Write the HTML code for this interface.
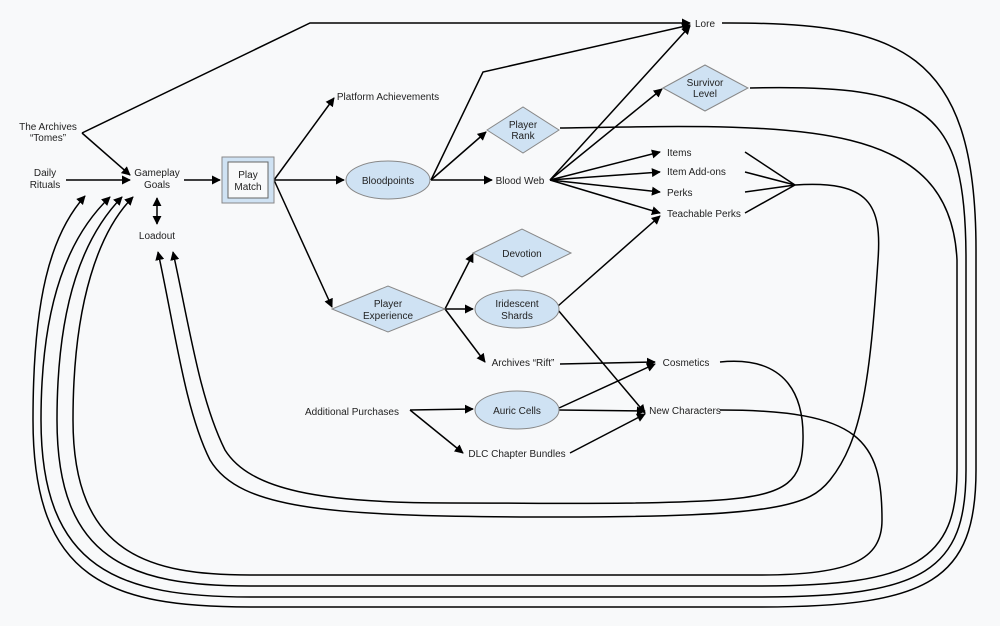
<!DOCTYPE html>
<html><head><meta charset="utf-8"><style>
html,body{margin:0;padding:0;background:#f8f9fa;}
svg{display:block;}
text{font-family:"Liberation Sans",Arial,sans-serif;font-size:10px;fill:#222;text-anchor:middle;}
</style></head><body>
<svg width="1000" height="626" viewBox="0 0 1000 626" xmlns="http://www.w3.org/2000/svg">
<defs>
<marker id="a" viewBox="0 0 10 10" refX="9" refY="5" markerWidth="9" markerHeight="9" markerUnits="userSpaceOnUse" orient="auto"><path d="M0,0 L10,5 L0,10 z" fill="#000"/></marker>
<marker id="s" viewBox="0 0 10 10" refX="1" refY="5" markerWidth="9" markerHeight="9" markerUnits="userSpaceOnUse" orient="auto"><path d="M10,0 L0,5 L10,10 z" fill="#000"/></marker>
</defs>
<rect width="1000" height="626" fill="#f8f9fa"/>
<g fill="none" stroke="#000" stroke-width="1.5">
<path d="M82,133 L310,23 L690,23" marker-end="url(#a)"/>
<path d="M82,133 L130,175" marker-end="url(#a)"/>
<path d="M66,180 L130,180" marker-end="url(#a)"/>
<path d="M184,180 L220,180" marker-end="url(#a)"/>
<path d="M157,198 L157,224" marker-end="url(#a)" marker-start="url(#s)"/>
<path d="M274,180 L334,98" marker-end="url(#a)"/>
<path d="M274,180 L344,180" marker-end="url(#a)"/>
<path d="M274,180 L332,307" marker-end="url(#a)"/>
<path d="M431,180 L483,72 L690,25" marker-end="url(#a)"/>
<path d="M431,180 L486,132" marker-end="url(#a)"/>
<path d="M431,180 L492,180" marker-end="url(#a)"/>
<path d="M550,180 L690,26" marker-end="url(#a)"/>
<path d="M550,180 L662,89" marker-end="url(#a)"/>
<path d="M550,180 L660,152" marker-end="url(#a)"/>
<path d="M550,180 L660,172" marker-end="url(#a)"/>
<path d="M550,180 L660,192" marker-end="url(#a)"/>
<path d="M550,180 L660,213" marker-end="url(#a)"/>
<path d="M745,152 L795,185 M745,172 L795,185 M745,192 L795,185 M745,213 L795,185"/>
<path d="M445,309 L473,254" marker-end="url(#a)"/>
<path d="M445,309 L473,309" marker-end="url(#a)"/>
<path d="M445,309 L485,362" marker-end="url(#a)"/>
<path d="M558,306 L660,216" marker-end="url(#a)"/>
<path d="M558,310 L645,413" marker-end="url(#a)"/>
<path d="M560,364 L655,362" marker-end="url(#a)"/>
<path d="M559,408 L655,364" marker-end="url(#a)"/>
<path d="M559,410 L645,411" marker-end="url(#a)"/>
<path d="M570,453 L645,414" marker-end="url(#a)"/>
<path d="M410,410 L473,409" marker-end="url(#a)"/>
<path d="M410,410 L463,453" marker-end="url(#a)"/>
<!-- loops -->
<path d="M722,23 C900,22 976,50 976,250 L976,470 C976,580 930,607 760,607 L250,607 C110,607 33,580 33,420 C33,300 50,235 85,196" marker-end="url(#a)"/>
<path d="M750,88 C930,84 966,110 966,260 L966,470 C966,570 925,597 760,597 L250,597 C120,597 41,570 41,420 C41,300 70,235 110,197" marker-end="url(#a)"/>
<path d="M560,128 C800,124 950,118 957,260 L957,470 C957,560 915,586 760,586 L250,586 C130,586 57,560 57,420 C57,300 85,235 122,197" marker-end="url(#a)"/>
<path d="M720,410 C860,410 882,440 882,520 C882,560 850,575 760,575 L250,575 C150,575 73,555 73,420 C73,300 100,230 133,197" marker-end="url(#a)"/>
<path d="M795,185 C870,180 882,205 878,260 C870,380 862,440 830,480 C810,505 780,517 560,517 C330,517 240,510 210,460 C185,410 175,330 158,252" marker-end="url(#a)"/>
<path d="M720,362 C790,355 804,400 803,440 C802,480 790,495 720,500 C640,505 560,503 450,503 C320,503 250,490 225,450 C200,400 190,330 173,252" marker-end="url(#a)"/>
</g>
<!-- shapes -->
<rect x="222" y="157" width="52" height="46" fill="#cfe2f3" stroke="#888"/>
<rect x="228" y="162" width="40" height="36" fill="#f8f9fa" stroke="#666"/>
<ellipse cx="388" cy="180" rx="42" ry="19" fill="#cfe2f3" stroke="#888"/>
<ellipse cx="517" cy="309" rx="42" ry="19" fill="#cfe2f3" stroke="#888"/>
<ellipse cx="517" cy="410" rx="42" ry="19" fill="#cfe2f3" stroke="#888"/>
<polygon points="487,130 523,107 559,130 523,153" fill="#cfe2f3" stroke="#888"/>
<polygon points="663,88 705,65 748,88 705,111" fill="#cfe2f3" stroke="#888"/>
<polygon points="473,253 522,229 571,253 522,277" fill="#cfe2f3" stroke="#888"/>
<polygon points="332,309 388,286 445,309 388,332" fill="#cfe2f3" stroke="#888"/>
<!-- labels -->
<text x="48" y="130">The Archives</text><text x="48" y="141">“Tomes”</text>
<text x="45" y="176">Daily</text><text x="45" y="188">Rituals</text>
<text x="157" y="176">Gameplay</text><text x="157" y="188">Goals</text>
<text x="248" y="178">Play</text><text x="248" y="190">Match</text>
<text x="157" y="239">Loadout</text>
<text x="388" y="100">Platform Achievements</text>
<text x="388" y="184">Bloodpoints</text>
<text x="520" y="184">Blood Web</text>
<text x="523" y="128">Player</text><text x="523" y="139">Rank</text>
<text x="705" y="27">Lore</text>
<text x="705" y="86">Survivor</text><text x="705" y="97">Level</text>
<text x="667" y="156" style="text-anchor:start">Items</text>
<text x="667" y="175" style="text-anchor:start">Item Add-ons</text>
<text x="667" y="196" style="text-anchor:start">Perks</text>
<text x="667" y="217" style="text-anchor:start">Teachable Perks</text>
<text x="522" y="257">Devotion</text>
<text x="388" y="307">Player</text><text x="388" y="319">Experience</text>
<text x="517" y="307">Iridescent</text><text x="517" y="319">Shards</text>
<text x="523" y="366">Archives “Rift”</text>
<text x="686" y="366">Cosmetics</text>
<text x="352" y="415">Additional Purchases</text>
<text x="517" y="414">Auric Cells</text>
<text x="685" y="414">New Characters</text>
<text x="517" y="457">DLC Chapter Bundles</text>
</svg>
</body></html>
